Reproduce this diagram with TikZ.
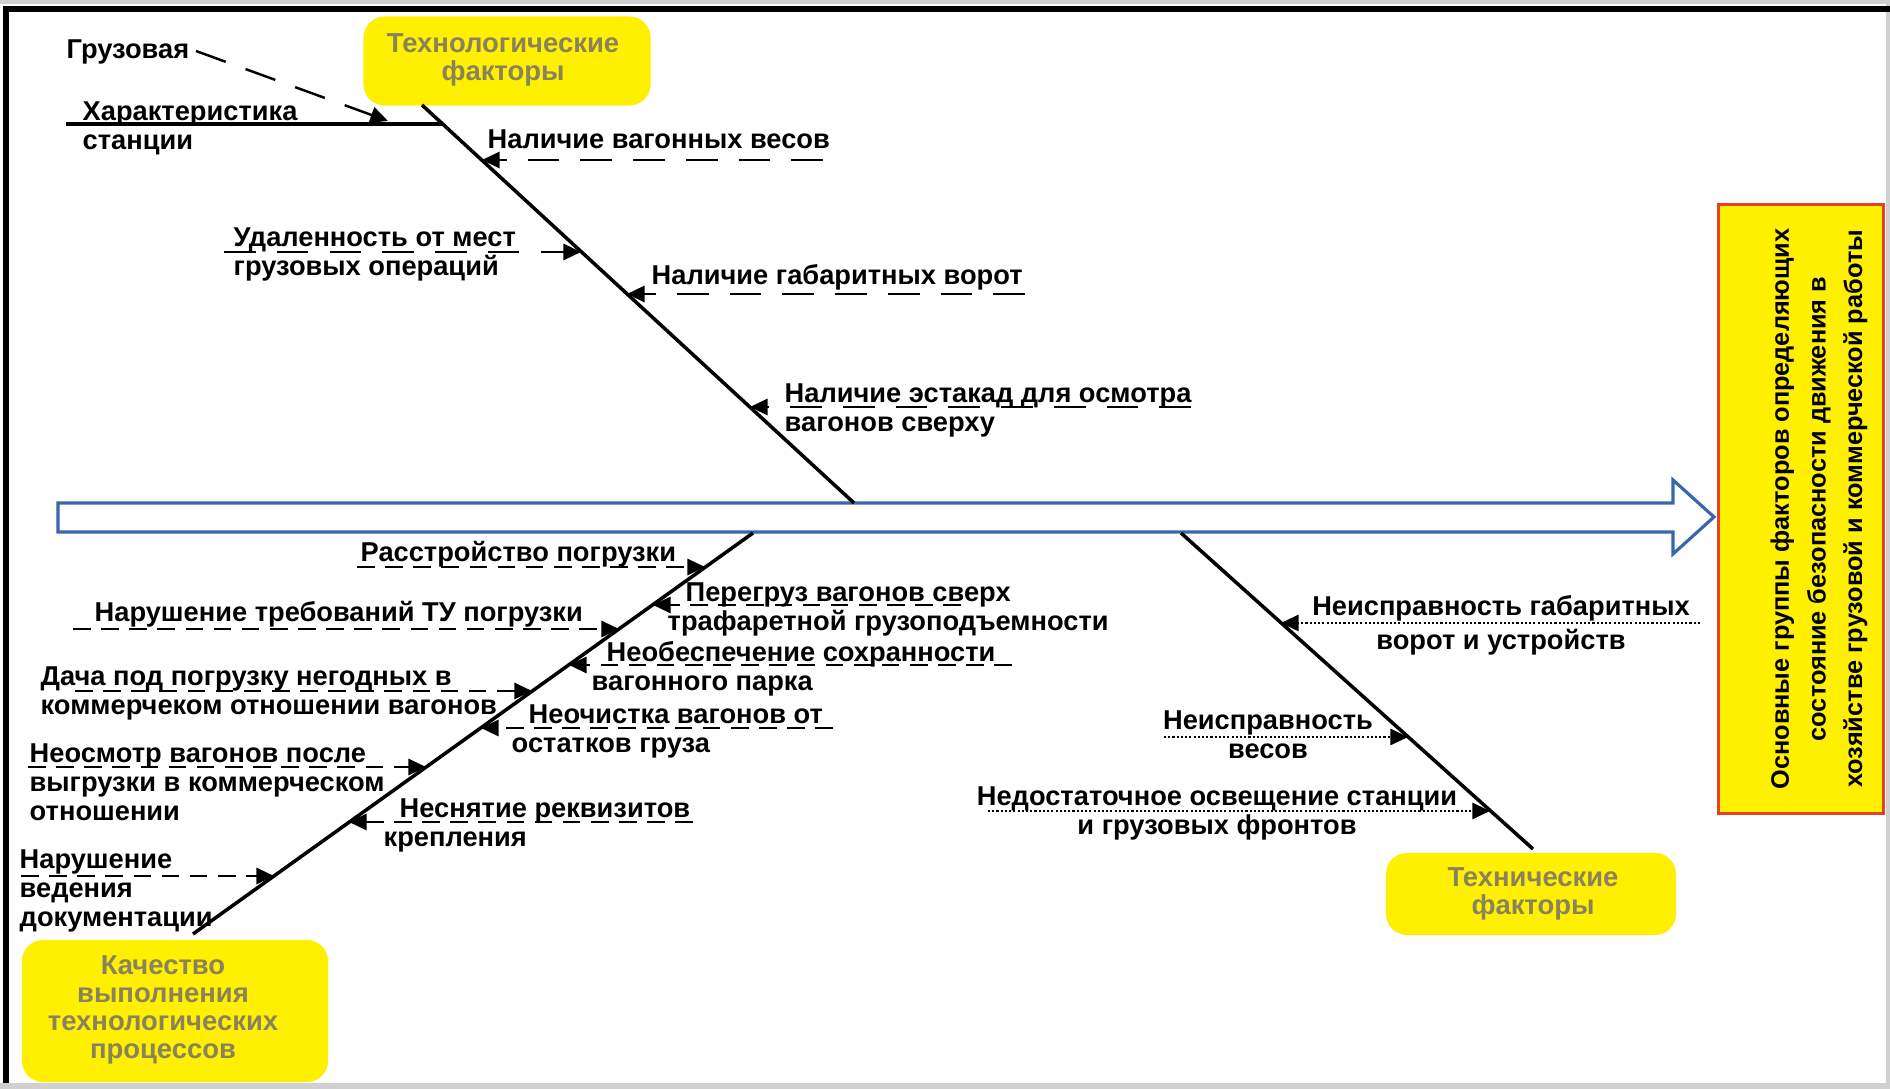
\documentclass[tikz,border=0pt]{standalone}
\usepackage{fontspec}
\setmainfont{Liberation Sans}
\usetikzlibrary{arrows.meta}
\definecolor{boxyellow}{RGB}{255,240,0}
\definecolor{titlegray}{RGB}{138,130,92}
\definecolor{spineblue}{RGB}{58,102,172}
\definecolor{boxred}{RGB}{232,64,36}
\definecolor{framegray}{RGB}{208,208,208}
\tikzset{
  lbl/.style={font=\bfseries\fontsize{7.75}{8.2}\selectfont, inner sep=0pt, anchor=north west, align=left},
  lblc/.style={font=\bfseries\fontsize{7.75}{8.2}\selectfont, inner sep=0pt, anchor=north, align=center},
  ybox/.style={fill=boxyellow, draw=none, rounded corners=6pt, inner sep=0pt},
  ytext/.style={text=titlegray, align=center, font=\bfseries\fontsize{7.8}{8}\selectfont, inner sep=0pt},
  rbox/.style={fill=boxyellow, draw=boxred, line width=0.9pt, inner sep=0pt},
  rtext/.style={align=center, rotate=90, font=\bfseries\fontsize{7.2}{10.4}\selectfont, inner sep=0pt},
  bone/.style={line width=1pt, black},
  tip/.style={-{Triangle[length=5pt,width=4.6pt]}},
  dashT/.style={tip, line width=0.7pt, dash pattern=on 9pt off 6pt},
  dashB/.style={tip, line width=0.7pt, dash pattern=on 5pt off 3pt},
  dotR/.style={tip, line width=0.6pt, dash pattern=on 0.6pt off 0.6pt},
}
\begin{document}
\begin{tikzpicture}[x=0.01cm,y=-0.01cm]
\useasboundingbox (0,0) rectangle (1890,1089);
% frame
\fill[white] (0,0) rectangle (1890,1089);
\fill[framegray] (0,0) rectangle (1890,4);
\fill[framegray] (0,1083) rectangle (1890,1089);
\fill[framegray] (1886,0) rectangle (1890,1089);
\fill[black] (3,6) rectangle (1890,12);
\fill[black] (3,6) rectangle (9,1083);

% spine arrow
\draw[spineblue, line width=0.9pt, line join=miter]
  (58,503) -- (1673,503) -- (1673,480) -- (1714,517) -- (1673,554) -- (1673,532) -- (58,532) -- cycle;

% group boxes
\node[ybox, minimum width=2.87cm, minimum height=0.89cm] (techno) at (507,61) {};
\node[ytext] (technoT) at (503,60) {Технологические\\факторы};
\node[ybox, minimum width=3.06cm, minimum height=1.42cm] (kach) at (175,1011) {};
\node[ytext] (kachT) at (163,1010) {Качество\\выполнения\\технологических\\процессов};
\node[ybox, minimum width=2.90cm, minimum height=0.82cm] (techn) at (1531,894) {};
\node[ytext] (technT) at (1533,894) {Технические\\факторы};
\node[rbox, minimum width=1.65cm, minimum height=6.09cm] (result) at (1801,509) {};
\node[rtext] (resultT) at (1819,509)
  {Основные группы факторов определяющих\\состояние безопасности движения в\\хозяйстве грузовой и коммерческой работы};

% bones
\coordinate (tb1) at (422,105); \coordinate (tb2) at (854,503);
\coordinate (bl1) at (193,934); \coordinate (bl2) at (753,533);
\coordinate (br1) at (1181,533); \coordinate (br2) at (1533,849);
\draw[bone] (tb1) -- (tb2);
\draw[bone] (bl1) -- (bl2);
\draw[bone] (br1) -- (br2);

% ---- top labels
\node[lbl] (gruz) at (66,39) {Грузовая};
\node[lbl] (harakt) at (82,101) {Характеристика\\станции};
\node[lbl] (vesy) at (487,129) {Наличие вагонных весов};
\node[lbl] (udal) at (233,227) {Удаленность от мест\\грузовых операций};
\node[lbl] (gabar) at (651,264) {Наличие габаритных ворот};
\node[lbl] (estak) at (784,383) {Наличие эстакад для осмотра\\вагонов сверху};

\coordinate (h1) at (66,124); \coordinate (h2) at (443,124);
\draw[bone] (h1) -- (h2);
\coordinate (g1) at (196,51); \coordinate (g2) at (388,121);
\draw[dashT] (g1) -- (g2);
\coordinate (v1) at (823,160); \coordinate (v2) at (482,160);
\draw[dashT] (v1) -- (v2);
\coordinate (u1) at (224,252); \coordinate (u2) at (581,252);
\draw[dashT] (u1) -- (u2);
\coordinate (gb1) at (1025,294); \coordinate (gb2) at (627,294);
\draw[dashT] (gb1) -- (gb2);
\coordinate (e1) at (1191,407); \coordinate (e2) at (750,407);
\draw[dashT] (e1) -- (e2);

% ---- bottom-left labels
\node[lbl] (rasstr) at (360,541) {Расстройство погрузки};
\node[lbl] (peregr) at (667,582) {\hspace*{0.18cm}Перегруз вагонов сверх\\трафаретной грузоподъемности};
\node[lbl] (narTU) at (94,601) {Нарушение требований ТУ погрузки};
\node[lbl] (neobesp) at (591,641) {\hspace*{0.15cm}Необеспечение сохранности\\вагонного парка};
\node[lbl] (dacha) at (40,666) {Дача под погрузку негодных в\\коммерчеком отношении вагонов};
\node[lbl] (neochist) at (511,704) {\hspace*{0.17cm}Неочистка вагонов от\\остатков груза};
\node[lbl] (neosm) at (29,743) {Неосмотр вагонов после\\выгрузки в коммерческом\\отношении};
\node[lbl] (nesnyat) at (383,798) {\hspace*{0.16cm}Неснятие реквизитов\\крепления};
\node[lbl] (narved) at (19,849) {Нарушение\\ведения\\документации};

\coordinate (r1) at (357,567); \coordinate (r2) at (705,567);
\draw[dashB] (r1) -- (r2);
\coordinate (p1) at (961,605); \coordinate (p2) at (653,605);
\draw[dashB] (p1) -- (p2);
\coordinate (t1) at (73,629); \coordinate (t2) at (619,629);
\draw[dashB] (t1) -- (t2);
\coordinate (n1) at (1012,665); \coordinate (n2) at (569,665);
\draw[dashB] (n1) -- (n2);
\coordinate (d1) at (75,691); \coordinate (d2) at (532,691);
\draw[dashB] (d1) -- (d2);
\coordinate (o1) at (833,728); \coordinate (o2) at (481,728);
\draw[dashB] (o1) -- (o2);
\coordinate (s1) at (28,767); \coordinate (s2) at (426,767);
\draw[dashB] (s1) -- (s2);
\coordinate (k1) at (693,822); \coordinate (k2) at (349,822);
\draw[dashB] (k1) -- (k2);
\coordinate (w1) at (21,876); \coordinate (w2) at (274,876);
\draw[dashB] (w1) -- (w2);

% ---- right-bone labels
\node[lblc] (neispgab) at (1501,595) {Неисправность габаритных\\[1.5pt]ворот и устройств};
\node[lblc] (neispves) at (1268,710) {Неисправность\\весов};
\node[lblc] (nedost) at (1217,786) {Недостаточное освещение станции\\и грузовых фронтов};

\coordinate (a1) at (1700,623); \coordinate (a2) at (1281,623);
\draw[dotR] (a1) -- (a2);
\coordinate (b1) at (1164,737); \coordinate (b2) at (1408,737);
\draw[dotR] (b1) -- (b2);
\coordinate (c1) at (988,811); \coordinate (c2) at (1490,811);
\draw[dotR] (c1) -- (c2);
\end{tikzpicture}
\end{document}
